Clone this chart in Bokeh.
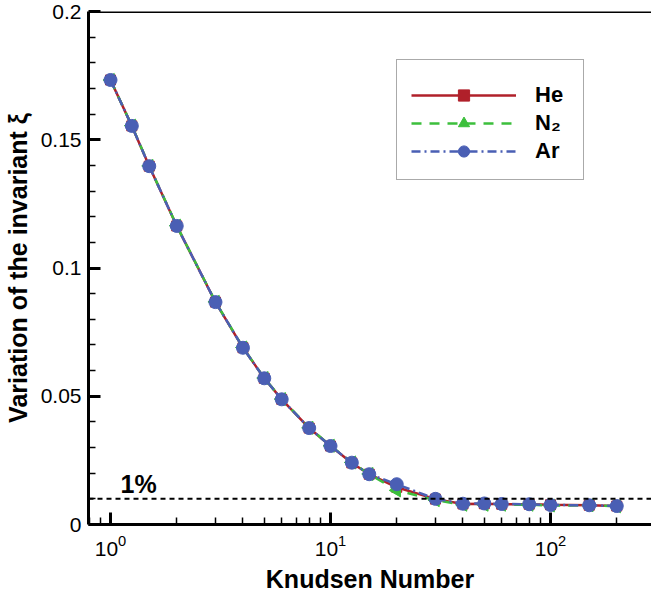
import math
from bokeh.plotting import figure
from bokeh.models import Range1d, FixedTicker, LogTicker, Span, Label, Legend, LegendItem, ColumnDataSource
from bokeh.embed import file_html
from bokeh.resources import INLINE

# ---- data ----
knudsen = [1, 1.25, 1.5, 2, 3, 4, 5, 6, 8, 10, 12.5, 15, 20, 30, 40, 50, 60, 80, 100, 150, 200]
xi_he = [0.1733, 0.1554, 0.1397, 0.1164, 0.0867, 0.0689, 0.0570, 0.0488, 0.0376, 0.0306,
         0.0240, 0.0196, 0.0145, 0.0099, 0.0080, 0.0081, 0.0079, 0.0079, 0.0077, 0.0075, 0.0072]
xi_n2 = [0.1733, 0.1555, 0.1398, 0.1165, 0.0868, 0.0690, 0.0571, 0.0489, 0.0377, 0.0307,
         0.0242, 0.0197, 0.0133, 0.0095, 0.0077, 0.0077, 0.0077, 0.0077, 0.0074, 0.0075, 0.0071]
xi_ar = [0.1733, 0.1554, 0.1397, 0.1164, 0.0867, 0.0689, 0.0570, 0.0488, 0.0376, 0.0306,
         0.0241, 0.0196, 0.0157, 0.0100, 0.0081, 0.0082, 0.0080, 0.0079, 0.0076, 0.0075, 0.0072]
series_names = ["He", "N\u2082", "Ar"]
y_ticks = [0, 0.05, 0.1, 0.15, 0.2]
y_tick_labels = ["0", "0.05", "0.1", "0.15", "0.2"]
y_minor_ticks = [0.01, 0.02, 0.03, 0.04, 0.06, 0.07, 0.08, 0.09, 0.11, 0.12, 0.13, 0.14,
                 0.16, 0.17, 0.18, 0.19]
threshold = 0.01
threshold_label = "1%"
x_label = "Knudsen Number"
y_label = "Variation of the invariant \u03be"

FONT = "Liberation Sans"

p = figure(width=651, height=595, x_axis_type="log",
           x_range=Range1d(10 ** -0.1, 10 ** 2.459), y_range=Range1d(0, 0.2),
           output_backend="svg", toolbar_location=None,
           min_border_left=88, min_border_right=0, min_border_top=11, min_border_bottom=68)
p.outline_line_color = None
p.grid.visible = False
p.background_fill_color = "white"
p.border_fill_color = "white"

# axes styling
for ax in (p.xaxis[0], p.yaxis[0]):
    ax.axis_line_width = 3
    ax.axis_line_color = "black"
    ax.major_tick_in = 12
    ax.major_tick_out = 0
    ax.minor_tick_in = 7
    ax.minor_tick_out = 0
    ax.major_tick_line_width = 3
    ax.major_tick_line_color = "black"
    ax.minor_tick_line_width = 1.5
    ax.minor_tick_line_color = "black"
    ax.major_label_text_font = FONT
    ax.major_label_text_font_size = "21px"
    ax.major_label_text_color = "black"
    ax.axis_label_text_font = FONT
    ax.axis_label_text_font_size = "25px"
    ax.axis_label_text_font_style = "bold"
    ax.axis_label_text_color = "black"

p.xaxis.ticker = LogTicker(num_minor_ticks=10)
p.xaxis.major_label_standoff = 10
p.xaxis.axis_label = x_label
p.xaxis.axis_label_standoff = 6

p.yaxis.ticker = FixedTicker(ticks=y_ticks, minor_ticks=y_minor_ticks)
p.yaxis.major_label_overrides = dict(zip(y_ticks, y_tick_labels))
p.yaxis.major_label_standoff = 7
p.yaxis.axis_label = y_label
p.yaxis.axis_label_standoff = 6

# top border
p.add_layout(Span(location=0.2, dimension="width", line_color="black", line_width=3))

# 1% threshold
p.add_layout(Span(location=threshold, dimension="width", line_color="black",
                  line_width=2, line_dash="5 4"))
p.add_layout(Label(x=1.11, y=threshold, y_offset=1, text=threshold_label,
                   text_font=FONT, text_font_size="25px", text_font_style="bold",
                   text_baseline="bottom", text_color="black"))

colors = ["#B0202A", "#3CBF3C", "#4A5FB4"]
dashes = ["solid", "10 8", "9 4 2 4"]
markers = ["square", "triangle", "circle"]
sizes = [10, 13, 13]
angles = [0, math.pi / 2, 0]
values = [xi_he, xi_n2, xi_ar]

items = []
for name, vals, c, d, m, s, a in zip(series_names, values, colors, dashes, markers, sizes, angles):
    src = ColumnDataSource(dict(x=knudsen, y=vals))
    lr = p.line("x", "y", source=src, line_color=c, line_width=2.5, line_dash=d)
    sr = p.scatter("x", "y", source=src, marker=m, size=s, angle=a,
                   fill_color=c, line_color=c)
    items.append(LegendItem(label=name, renderers=[lr, sr]))

legend = Legend(items=items, location=(308, 344))
legend.glyph_width = 105
legend.glyph_height = 28
legend.label_height = 28
legend.label_width = 34
legend.label_standoff = 19
legend.spacing = 0
legend.padding = 14
legend.title = " "
legend.title_text_font_size = "7px"
legend.title_standoff = 0
legend.label_text_font = FONT
legend.label_text_font_size = "22px"
legend.label_text_font_style = "bold"
legend.label_text_color = "black"
legend.border_line_color = "#555555"
legend.border_line_width = 1.5
legend.background_fill_color = "white"
legend.background_fill_alpha = 1
p.add_layout(legend)

open("out.html", "w").write(file_html(p, INLINE))
